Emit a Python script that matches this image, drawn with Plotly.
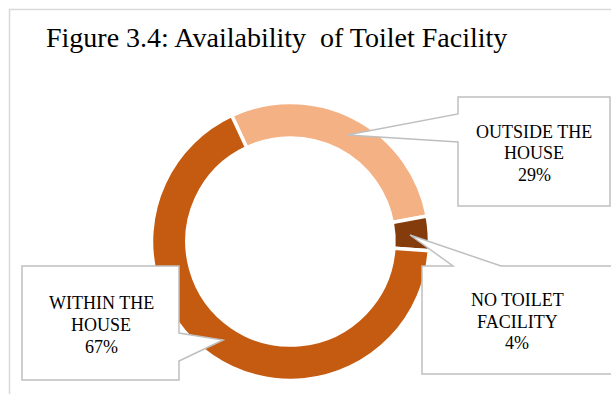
import plotly.graph_objects as go

# Toilet facility availability (share of households, %)
categories = ["OUTSIDE THE HOUSE", "NO TOILET FACILITY", "WITHIN THE HOUSE"]
shares = [29, 4, 67]
slice_colors = ["#F4B183", "#843C0C", "#C55A11"]
callout_lines = [["OUTSIDE THE", "HOUSE", "29%"],
                 ["NO TOILET", "FACILITY", "4%"],
                 ["WITHIN THE", "HOUSE", "67%"]]

W, H = 611, 394
SERIF = "Liberation Serif"


def px(x):
    return x / W


def py(y):
    return 1 - y / H


# donut geometry in page pixels
cx, cy, r = 290.5, 241.5, 139

fig = go.Figure(go.Pie(
    labels=categories,
    values=shares,
    hole=0.745,
    sort=False,
    direction="clockwise",
    rotation=-25,
    marker=dict(colors=slice_colors, line=dict(color="white", width=3.5)),
    textinfo="none",
    hoverinfo="label+percent",
    domain=dict(x=[px(cx - r), px(cx + r)], y=[py(cy + r), py(cy - r)]),
    showlegend=False,
))


def path(points, closed=True):
    d = "M " + " L ".join(f"{px(x):.5f},{py(y):.5f}" for x, y in points)
    return d + " Z" if closed else d


box_line = dict(color="#BFBFBF", width=1.5)

# callout frames with pointers to their slices
callout_frames = [
    [(458, 114), (458, 97), (610, 97), (610, 206), (458, 206), (458, 142), (347, 135)],
    [(453, 266), (422, 266), (422, 374), (614, 374), (614, 266), (501, 266), (410, 235)],
    [(179, 333), (179, 266), (22, 266), (22, 380), (179, 380), (179, 361), (223, 340)],
]
callout_centers = [(534, [132, 153, 175]), (517, [300, 322, 343]), (101, [303, 325, 347])]

shapes = [dict(type="path", xref="paper", yref="paper", path=path(f),
               line=box_line, fillcolor="white", layer="above")
          for f in callout_frames]

# outer chart frame
shapes.append(dict(type="path", xref="paper", yref="paper",
                   path=path([(9.5, 400), (9.5, 9.5), (620, 9.5)], closed=False),
                   line=dict(color="#D9D9D9", width=1.5)))

annotations = [dict(x=px(44), y=py(38), xref="paper", yref="paper",
                    xanchor="left", yanchor="middle", showarrow=False,
                    text="Figure 3.4: Availability\u00a0 of Toilet Facility",
                    font=dict(family=SERIF, size=28, color="black"))]

for lines, (tx, ys) in zip(callout_lines, callout_centers):
    for line, ty in zip(lines, ys):
        annotations.append(dict(x=px(tx), y=py(ty), xref="paper", yref="paper",
                                xanchor="center", yanchor="middle", showarrow=False,
                                text=line, font=dict(family=SERIF, size=18, color="black")))

fig.update_layout(
    width=W, height=H,
    margin=dict(l=0, r=0, t=0, b=0),
    paper_bgcolor="white", plot_bgcolor="white",
    shapes=shapes, annotations=annotations,
)

fig.write_html("out.html")
